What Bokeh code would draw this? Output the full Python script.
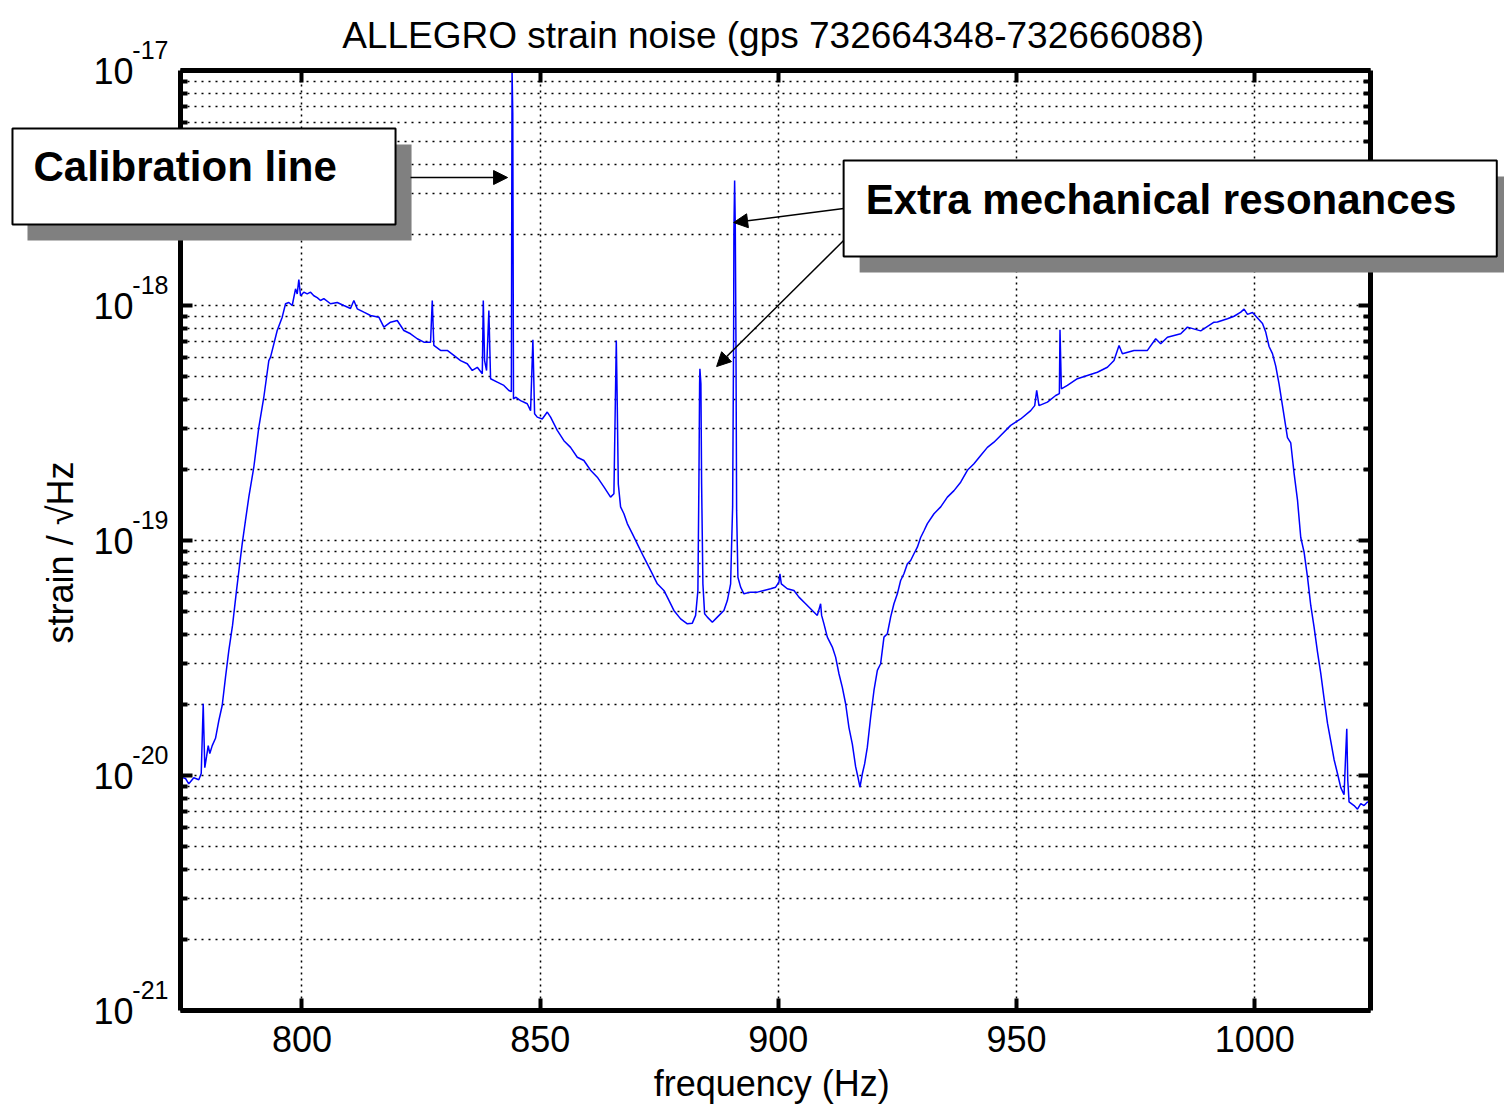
import math
from bokeh.plotting import figure
from bokeh.models import (Range1d, FixedTicker, LinearAxis, LogAxis, LogScale, Label, Grid,
                          BoxAnnotation, Arrow, NormalHead, CustomJSTickFormatter)
from bokeh.embed import file_html
from bokeh.resources import INLINE

# ---------------- data ----------------
freq_hz = [
    774.5, 775.55, 776.24, 777.29, 778.34, 778.85, 779.27, 779.39, 779.60, 779.96,
    780.32, 780.65, 781.16, 781.85, 782.54, 783.26, 783.95, 784.64, 785.42, 786.26,
    786.89, 787.45, 788.15, 788.84, 789.89, 790.94, 791.99, 793.04, 793.40, 794.80,
    795.85, 796.55, 797.24, 797.95, 798.65, 799.00, 799.34, 799.70, 800.39, 801.10,
    801.80, 802.49, 803.20, 803.89, 804.59, 805.99, 807.40, 808.79, 810.19, 810.89,
    811.60, 812.99, 814.39, 816.14, 817.19, 818.59, 820.00, 821.38, 822.79, 824.20,
    825.58, 826.99, 827.35, 827.68, 829.09, 830.50, 831.88, 833.29, 834.70, 835.75,
    836.80, 837.85, 838.06, 838.33, 838.75, 839.23, 839.59, 841.00, 842.38, 843.43,
    843.95, 844.10, 844.25, 844.40, 844.84, 845.89, 847.29, 847.99, 848.47, 848.83,
    849.39, 850.44, 851.49, 852.19, 853.59, 854.98, 856.38, 857.79, 859.18, 860.58,
    861.99, 863.38, 864.78, 865.48, 865.98, 866.19, 866.40, 866.88, 867.58, 868.29,
    869.34, 870.39, 871.77, 873.18, 874.59, 875.97, 876.69, 878.07, 879.48, 880.89,
    881.94, 882.63, 883.11, 883.32, 883.47, 883.53, 883.74, 883.89, 884.16, 884.52,
    885.09, 886.14, 887.19, 888.57, 889.29, 889.98, 890.19, 890.40, 890.61, 890.67,
    890.82, 890.96, 891.09, 891.24, 891.51, 892.08, 892.77, 894.18, 895.59, 896.97,
    898.38, 899.43, 900.12, 900.33, 900.62, 901.88, 903.27, 904.32, 905.72, 907.13,
    908.18, 908.87, 909.08, 909.57, 910.28, 911.33, 912.02, 912.72, 913.43, 914.12,
    914.82, 915.53, 916.22, 916.71, 917.13, 917.63, 918.11, 918.68, 919.37, 920.07,
    920.78, 921.47, 922.17, 922.88, 923.57, 924.26, 924.98, 925.67, 926.36, 927.08,
    927.77, 928.46, 929.18, 929.87, 930.57, 931.28, 932.67, 934.08, 935.48, 936.87,
    938.27, 939.68, 941.06, 942.47, 943.88, 945.26, 946.67, 948.77, 950.87, 952.97,
    953.81, 954.23, 954.71, 956.48, 958.22, 958.99, 959.12, 959.41, 960.67, 962.77,
    964.87, 966.97, 969.07, 970.46, 971.51, 972.22, 974.66, 977.47, 979.21, 980.26,
    981.67, 984.46, 985.87, 988.66, 991.46, 992.17, 994.27, 995.66, 997.07, 997.76,
    998.48, 999.53, 1000.58, 1001.63, 1002.32, 1003.01, 1003.72, 1004.41, 1005.11, 1005.82,
    1006.87, 1007.56, 1008.26, 1008.97, 1009.66, 1010.35, 1011.07, 1011.76, 1012.45, 1013.17,
    1013.86, 1014.55, 1015.27, 1015.96, 1016.65, 1017.37, 1018.06, 1018.75, 1019.11, 1019.32,
    1019.53, 1019.80, 1020.85, 1021.57, 1022.26, 1022.95, 1023.67, 1024.3,
]
strain = [
    9.84e-21, 9.71e-21, 9.22e-21, 9.78e-21, 9.59e-21, 1.02e-20, 2.02e-20, 1.58e-20, 1.08e-20, 1.20e-20,
    1.34e-20, 1.24e-20, 1.34e-20, 1.44e-20, 1.71e-20, 1.99e-20, 2.62e-20, 3.40e-20, 4.35e-20, 6.13e-20,
    7.83e-20, 9.68e-20, 1.22e-19, 1.53e-19, 2.05e-19, 3.03e-19, 4.07e-19, 5.83e-19, 6.03e-19, 7.83e-19,
    8.92e-19, 1.017e-18, 1.03e-18, 1.0e-18, 1.178e-18, 1.12e-18, 1.29e-18, 1.10e-18, 1.14e-18, 1.12e-18,
    1.14e-18, 1.10e-18, 1.08e-18, 1.05e-18, 1.07e-18, 1.017e-18, 1.03e-18, 1.0e-18, 9.71e-19, 1.05e-18,
    9.68e-19, 9.37e-19, 9.07e-19, 8.92e-19, 8.09e-19, 8.49e-19, 8.63e-19, 7.83e-19, 7.58e-19, 7.22e-19,
    6.98e-19, 6.98e-19, 1.05e-18, 6.76e-19, 6.44e-19, 6.44e-19, 6.13e-19, 5.83e-19, 5.65e-19, 5.29e-19,
    5.46e-19, 5.12e-19, 1.05e-18, 5.83e-19, 5.29e-19, 9.52e-19, 4.88e-19, 4.72e-19, 4.57e-19, 4.35e-19,
    4.3e-19, 1.0e-17, 6.6e-18, 4.0e-19, 4.07e-19, 3.94e-19, 3.82e-19, 3.57e-19, 7.14e-19, 3.46e-19,
    3.35e-19, 3.29e-19, 3.52e-19, 3.35e-19, 2.94e-19, 2.66e-19, 2.49e-19, 2.26e-19, 2.19e-19, 1.99e-19,
    1.86e-19, 1.69e-19, 1.53e-19, 1.58e-19, 7.10e-19, 3.69e-19, 1.74e-19, 1.39e-19, 1.30e-19, 1.18e-19,
    1.07e-19, 9.68e-20, 8.49e-20, 7.46e-20, 6.54e-20, 6.13e-20, 5.74e-20, 5.04e-20, 4.64e-20, 4.42e-20,
    4.45e-20, 4.80e-20, 6.13e-20, 1.74e-19, 4.64e-19, 5.38e-19, 4.64e-19, 1.74e-19, 6.54e-20, 4.88e-20,
    4.72e-20, 4.49e-20, 4.72e-20, 5.04e-20, 5.55e-20, 6.54e-20, 9.68e-20, 1.39e-19, 7.58e-19, 2.09e-18,
    3.40e-18, 2.15e-18, 7.58e-19, 1.34e-19, 6.98e-20, 6.33e-20, 5.93e-20, 6.03e-20, 6.03e-20, 6.13e-20,
    6.23e-20, 6.33e-20, 6.65e-20, 7.22e-20, 6.54e-20, 6.23e-20, 6.13e-20, 5.74e-20, 5.38e-20, 5.04e-20,
    4.80e-20, 5.38e-20, 4.80e-20, 4.42e-20, 3.88e-20, 3.52e-20, 3.19e-20, 2.71e-20, 2.37e-20, 2.02e-20,
    1.60e-20, 1.36e-20, 1.09e-20, 9.83e-21, 8.92e-21, 1.017e-20, 1.12e-20, 1.32e-20, 1.77e-20, 2.30e-20,
    2.80e-20, 2.99e-20, 3.88e-20, 4.01e-20, 4.72e-20, 5.38e-20, 5.93e-20, 6.76e-20, 7.22e-20, 7.96e-20,
    8.22e-20, 8.78e-20, 9.37e-20, 1.03e-19, 1.10e-19, 1.18e-19, 1.30e-19, 1.39e-19, 1.53e-19, 1.63e-19,
    1.77e-19, 1.99e-19, 2.12e-19, 2.30e-19, 2.49e-19, 2.62e-19, 2.80e-19, 3.09e-19, 3.29e-19, 3.57e-19,
    3.75e-19, 4.35e-19, 3.75e-19, 3.88e-19, 4.14e-19, 4.22e-19, 7.88e-19, 4.42e-19, 4.57e-19, 4.88e-19,
    5.04e-19, 5.20e-19, 5.46e-19, 5.83e-19, 6.76e-19, 6.23e-19, 6.44e-19, 6.44e-19, 7.22e-19, 6.87e-19,
    7.33e-19, 7.58e-19, 8.09e-19, 7.8e-19, 8.49e-19, 8.5e-19, 8.78e-19, 9.00e-19, 9.37e-19, 9.65e-19,
    9.17e-19, 9.33e-19, 8.85e-19, 8.39e-19, 7.69e-19, 6.69e-19, 6.24e-19, 5.52e-19, 4.63e-19, 3.75e-19,
    2.74e-19, 2.60e-19, 1.93e-19, 1.49e-19, 1.03e-19, 8.94e-20, 7.00e-20, 5.29e-20, 4.29e-20, 3.36e-20,
    2.72e-20, 2.13e-20, 1.67e-20, 1.40e-20, 1.17e-20, 1.02e-20, 8.88e-21, 8.28e-21, 1.26e-20, 1.58e-20,
    9.52e-21, 7.72e-21, 7.45e-21, 7.19e-21, 7.59e-21, 7.45e-21, 7.72e-21, 7.6e-21,
]

x_ticks = [800, 850, 900, 950, 1000]
y_decades = [1e-17, 1e-18, 1e-19, 1e-20, 1e-21]
y_minor = [m * 10.0 ** e for e in range(-21, -17) for m in range(2, 10)]

title_text = "ALLEGRO strain noise (gps 732664348-732666088)"
x_label = "frequency (Hz)"
y_label = "strain / \u221aHz"
calib_text = "Calibration line"
extra_text = "Extra mechanical resonances"

# ---------------- geometry ----------------
FONT = "Liberation Sans"
W, H = 1504, 1110
X0, X1 = 774.5, 1024.3            # axes box, data units
Y0, Y1 = 1e-21, 1e-17
BOX_L, BOX_R, BOX_T, BOX_B = 180, 1370, 70, 1010   # axes box, pixels
pxhz = (BOX_R - BOX_L) / (X1 - X0)
pxdec = (BOX_B - BOX_T) / (math.log10(Y1) - math.log10(Y0))
xr = Range1d(X0 - BOX_L / pxhz, X1 + (W - BOX_R) / pxhz)
yhi = 10 ** (math.log10(Y1) + BOX_T / pxdec)
ylo = 10 ** (math.log10(Y0) - (H - BOX_B) / pxdec)
yr = Range1d(ylo, yhi)
sh = 10 ** (-21 / pxdec)           # superscript raise

p = figure(width=W, height=H, x_range=xr, y_range=yr, y_axis_type="log",
           output_backend="svg", toolbar_location=None, title=None,
           min_border_left=0, min_border_right=0, min_border_top=0, min_border_bottom=0,
           extra_y_ranges={"exp": Range1d(ylo * sh, yhi * sh)},
           extra_y_scales={"exp": LogScale()})
p.background_fill_color = "white"
p.border_fill_color = "white"
p.outline_line_color = None

xt = FixedTicker(ticks=x_ticks)
yt = FixedTicker(ticks=y_decades, minor_ticks=y_minor)
blank = CustomJSTickFormatter(code="return ''")


def style_axis(ax):
    ax.axis_line_color = "black"
    ax.axis_line_width = 5
    ax.major_tick_line_color = "black"
    ax.major_tick_line_width = 4
    ax.major_tick_in = 12
    ax.major_tick_out = 0
    ax.minor_tick_line_color = "black"
    ax.minor_tick_line_width = 4
    ax.minor_tick_in = 7
    ax.minor_tick_out = 0


bx = p.xaxis[0]
bx.ticker = xt
bx.fixed_location = Y0
bx.bounds = (X0, X1)
style_axis(bx)
bx.major_label_text_font = FONT
bx.major_label_text_font_size = "36px"
bx.major_label_text_color = "black"
bx.major_label_standoff = 15

ly = p.yaxis[0]
ly.ticker = yt
ly.fixed_location = X0
ly.bounds = (Y0, Y1)
style_axis(ly)
ly.formatter = CustomJSTickFormatter(code="return '10'")
ly.major_label_text_font = FONT
ly.major_label_text_font_size = "36px"
ly.major_label_text_color = "black"
ly.major_label_standoff = 47

ey = LogAxis(y_range_name="exp", ticker=FixedTicker(ticks=y_decades),
             fixed_location=X0, bounds=(Y0 * sh, Y1 * sh),
             formatter=CustomJSTickFormatter(code="return String(Math.round(Math.log10(tick)))"),
             axis_line_color=None, major_tick_line_color=None, minor_tick_line_color=None,
             major_label_text_font=FONT, major_label_text_font_size="25px",
             major_label_text_color="black", major_label_standoff=6)
p.add_layout(ey, "left")

top = LinearAxis(ticker=xt, formatter=blank, fixed_location=Y1, bounds=(X0, X1))
style_axis(top)
p.add_layout(top, "above")

right = LogAxis(ticker=yt, formatter=blank, fixed_location=X1, bounds=(Y0, Y1))
style_axis(right)
p.add_layout(right, "right")

# ---------------- grid ----------------
if "cross_bounds" in Grid.properties():
    for g, tk, cb, dash in ((p.xgrid, xt, (Y0, Y1), "2 4"), (p.ygrid, yt, (X0, X1), "2 5")):
        g.ticker = tk
        g.cross_bounds = cb
        g.grid_line_color = "black"
        g.grid_line_width = 1.5
        g.grid_line_dash = dash
    p.ygrid.minor_grid_line_color = "black"
    p.ygrid.minor_grid_line_width = 1.5
    p.ygrid.minor_grid_line_dash = "2 5"
else:
    p.xgrid.grid_line_color = None
    p.ygrid.grid_line_color = None
    p.multi_line([[v, v] for v in x_ticks], [[Y0, Y1] for _ in x_ticks],
                 line_color="black", line_width=1.5, line_dash="2 4", level="underlay")
    ys = y_decades + y_minor
    p.multi_line([[X0, X1] for _ in ys], [[v, v] for v in ys],
                 line_color="black", line_width=1.5, line_dash="2 5", level="underlay")

# ---------------- spectrum ----------------
p.line(freq_hz, strain, line_color="#0000ff", line_width=1.5)

# ---------------- titles ----------------
p.add_layout(Label(x=898.9, y=1.409e-17, text=title_text, text_font=FONT,
                   text_font_size="37px", text_align="center", text_baseline="middle",
                   text_color="black"))
p.add_layout(Label(x=898.6, y=4.91e-22, text=x_label, text_font=FONT,
                   text_font_size="36px", text_align="center", text_baseline="middle",
                   text_color="black"))
p.add_layout(Label(x=749.3, y=8.89e-20, text=y_label, text_font=FONT,
                   text_font_size="36px", text_align="center", text_baseline="middle",
                   angle=math.pi / 2, text_color="black"))

# ---------------- callout boxes ----------------
p.add_layout(BoxAnnotation(left=742.38, right=823.0, top=4.843e-18, bottom=1.890e-18,
                           fill_color="#808080", fill_alpha=1, line_color=None))
p.add_layout(BoxAnnotation(left=739.23, right=819.64, top=5.665e-18, bottom=2.211e-18,
                           fill_color="white", fill_alpha=1, line_color="black",
                           line_alpha=1, line_width=2))
p.add_layout(Label(x=743.64, y=3.903e-18, text=calib_text, text_font=FONT,
                   text_font_size="42px", text_font_style="bold", text_align="left",
                   text_baseline="middle", text_color="black"))
p.add_layout(Arrow(x_start=822.79, y_start=3.504e-18, x_end=843.16, y_end=3.504e-18,
                   line_color="black", line_width=1.5,
                   end=NormalHead(size=14, fill_color="black", line_color="black")))

p.add_layout(BoxAnnotation(left=917.06, right=1054.17, top=3.540e-18, bottom=1.381e-18,
                           fill_color="#808080", fill_alpha=1, line_color=None))
p.add_layout(BoxAnnotation(left=913.70, right=1050.81, top=4.140e-18, bottom=1.616e-18,
                           fill_color="white", fill_alpha=1, line_color="black",
                           line_alpha=1, line_width=2))
p.add_layout(Label(x=918.32, y=2.825e-18, text=extra_text, text_font=FONT,
                   text_font_size="42px", text_font_style="bold", text_align="left",
                   text_baseline="middle", text_color="black"))
p.add_layout(Arrow(x_start=913.70, y_start=2.588e-18, x_end=890.61, y_end=2.254e-18,
                   line_color="black", line_width=1.5,
                   end=NormalHead(size=14, fill_color="black", line_color="black")))
p.add_layout(Arrow(x_start=913.70, y_start=1.890e-18, x_end=887.04, y_end=5.499e-19,
                   line_color="black", line_width=1.5,
                   end=NormalHead(size=14, fill_color="black", line_color="black")))

open("out.html", "w").write(file_html(p, INLINE))
